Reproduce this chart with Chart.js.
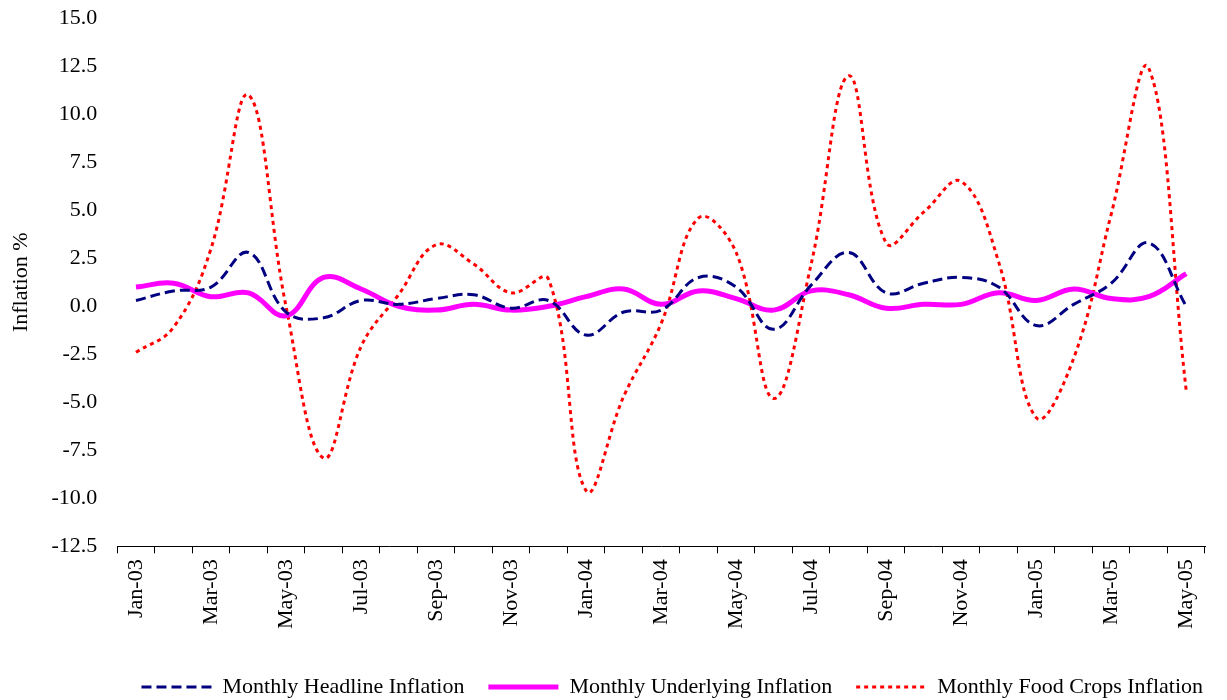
<!DOCTYPE html>
<html>
<head>
<meta charset="utf-8">
<script src="https://cdn.jsdelivr.net/npm/chart.js@4.4.1/dist/chart.umd.min.js"></script>
<style>
  html, body { margin: 0; padding: 0; background: #fff; overflow: hidden; }
  #frame { width: 1227px; height: 700px; overflow: hidden; position: relative; }
  #wrap { position: absolute; left: 0; top: -7px; width: 1227px; height: 715px; }
</style>
</head>
<body>
<div id="frame"><div id="wrap"><canvas id="chart"></canvas></div></div>
<script>
// Month labels, Jan-03 .. May-05
const months = [
    'Jan-03', 'Feb-03', 'Mar-03', 'Apr-03', 'May-03', 'Jun-03', 'Jul-03', 'Aug-03', 'Sep-03', 'Oct-03', 'Nov-03', 'Dec-03',
    'Jan-04', 'Feb-04', 'Mar-04', 'Apr-04', 'May-04', 'Jun-04', 'Jul-04', 'Aug-04', 'Sep-04', 'Oct-04', 'Nov-04', 'Dec-04',
    'Jan-05', 'Feb-05', 'Mar-05', 'Apr-05', 'May-05'
];

const headline = [
    0.3, 0.8, 1.0, 2.8, -0.3, -0.6, 0.3, 0.1, 0.4, 0.6, -0.1, 0.3,
    -1.5, -0.3, -0.2, 1.5, 1.0, -1.2, 1.1, 2.8, 0.7, 1.2, 1.5, 1.0,
    -1.0, 0.1, 1.2, 3.3, 0.0
];

const underlying = [
    1.0, 1.2, 0.5, 0.7, -0.5, 1.5, 0.9, 0.0, -0.2, 0.1, -0.2, 0.0,
    0.5, 0.9, 0.1, 0.8, 0.4, -0.2, 0.8, 0.6, -0.1, 0.1, 0.1, 0.7,
    0.3, 0.9, 0.4, 0.5, 1.7
];

const foodCrops = [
    -2.4, -1.1, 3.0, 11.0, 0.0, -7.9, -2.1, 0.6, 3.2, 2.2, 0.7, 1.4,
    -9.6, -4.7, -0.9, 4.6, 2.8, -4.8, 2.2, 12.0, 3.3, 4.9, 6.5, 2.3,
    -5.8, -2.7, 4.8, 12.4, -4.4
];

const yMin = -12.5;
const yMax = 15.0;
const yStep = 2.5;

const font = { family: "'Liberation Serif', 'Times New Roman', serif", size: 22 };

new Chart(document.getElementById('chart').getContext('2d'), {
    type: 'line',
    data: {
        labels: months,
        datasets: [
            {
                label: 'Monthly Headline Inflation',
                data: headline,
                borderColor: '#000080',
                backgroundColor: '#000080',
                borderWidth: 3,
                borderDash: [10, 5],
                pointRadius: 0,
                tension: 0.4
            },
            {
                label: 'Monthly Underlying Inflation',
                data: underlying,
                borderColor: '#FF00FF',
                backgroundColor: '#FF00FF',
                borderWidth: 5,
                pointRadius: 0,
                tension: 0.4
            },
            {
                label: 'Monthly Food Crops Inflation',
                data: foodCrops,
                borderColor: '#FF0000',
                backgroundColor: '#FF0000',
                borderWidth: 3,
                borderDash: [4, 4],
                pointRadius: 0,
                tension: 0.4
            }
        ]
    },
    options: {
        responsive: true,
        maintainAspectRatio: false,
        animation: false,
        layout: {
            padding: { top: 0, right: 0, left: 4, bottom: 0 }
        },
        plugins: {
            tooltip: { enabled: false },
            legend: {
                position: 'bottom',
                align: 'end',
                labels: {
                    font: font,
                    color: '#000',
                    usePointStyle: true,
                    pointStyleWidth: 70,
                    padding: 24,
                    // line samples keep the dataset's dash pattern
                    generateLabels: chart => chart.data.datasets.map((ds, i) => ({
                        text: ds.label,
                        datasetIndex: i,
                        pointStyle: 'line',
                        strokeStyle: ds.borderColor,
                        fillStyle: ds.borderColor,
                        lineWidth: ds.borderWidth,
                        lineDash: ds.borderDash || [],
                        fontColor: '#000',
                        hidden: false
                    }))
                }
            }
        },
        scales: {
            x: {
                offset: true,
                grid: {
                    offset: true,
                    drawOnChartArea: false,
                    tickLength: 7,
                    color: '#000'
                },
                border: { display: true, color: '#000', width: 1 },
                ticks: {
                    autoSkip: false,
                    minRotation: 90,
                    maxRotation: 90,
                    padding: 6,
                    color: '#000',
                    font: font,
                    callback: (v, i) => (i % 2 === 0 ? months[i] : '')
                },
                afterFit: scale => { scale.height += 17; }
            },
            y: {
                min: yMin,
                max: yMax,
                grid: { display: false },
                border: { display: false },
                title: {
                    display: true,
                    text: 'Inflation %',
                    color: '#000',
                    font: font,
                    padding: { top: 4, bottom: 5 }
                },
                ticks: {
                    stepSize: yStep,
                    padding: 12,
                    color: '#000',
                    font: font,
                    callback: v => v.toFixed(1)
                }
            },
            // empty right margin beside the plot
            yRight: {
                position: 'right',
                grid: { display: false },
                border: { display: false },
                ticks: { display: false },
                afterFit: scale => { scale.width = 22; }
            }
        }
    }
});
</script>
</body>
</html>
